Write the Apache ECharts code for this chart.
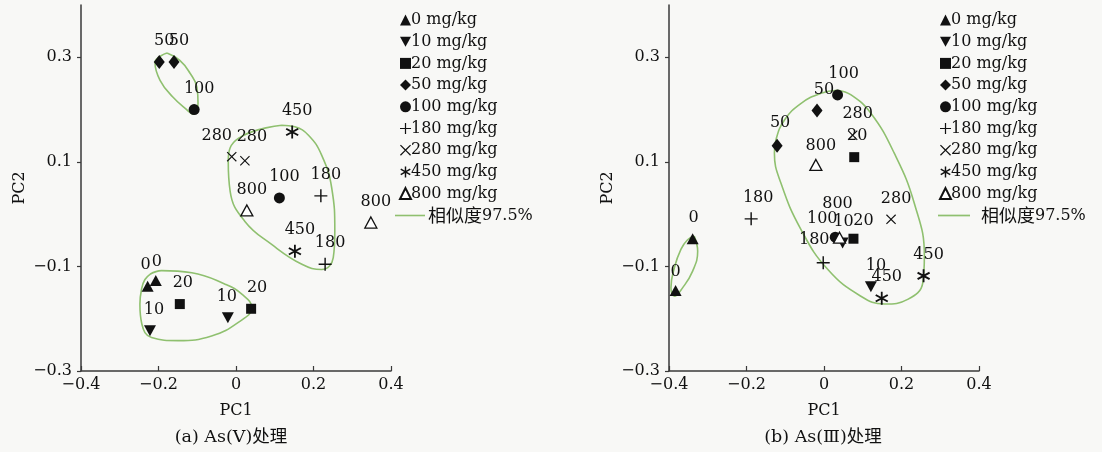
<!DOCTYPE html>
<html><head><meta charset="utf-8">
<script src="https://cdn.jsdelivr.net/npm/echarts@6/dist/echarts.min.js"></script>
<style>html,body{margin:0;padding:0;background:#f8f8f6}#c{width:1102px;height:452px}</style>
</head><body><div id="c"></div>
<script>
// ---------- data ----------
const doses = ['0','10','20','50','100','180','280','450','800'];
const legendNames = doses.map(d => d + ' mg/kg');
const contourName = '相似度97.5%';
const xTicks = [-0.4, -0.2, 0, 0.2, 0.4];
const yTicks = [-0.3, -0.1, 0.1, 0.3];
const captionA = '(a) As(Ⅴ)处理';
const captionB = '(b) As(Ⅲ)处理';

// panel (a) As(V): PC1, PC2 per dose
const a0   = [[-0.228,-0.138],[-0.207,-0.127]];
const a10  = [[-0.021,-0.198],[-0.222,-0.223]];
const a20  = [[-0.145,-0.172],[0.039,-0.181]];
const a50  = [[-0.198,0.291],[-0.160,0.291]];
const a100 = [[-0.108,0.200],[0.112,0.031]];
const a180 = [[0.219,0.035],[0.230,-0.096]];
const a280 = [[-0.011,0.110],[0.023,0.102]];
const a450 = [[0.145,0.157],[0.152,-0.071]];
const a800 = [[0.028,0.007],[0.348,-0.016]];

// panel (b) As(III)
const b0   = [[-0.339,-0.047],[-0.383,-0.146]];
const b10  = [[0.048,-0.055],[0.121,-0.139]];
const b20  = [[0.078,0.109],[0.076,-0.047]];
const b50  = [[-0.121,0.131],[-0.018,0.198]];
const b100 = [[0.035,0.228],[0.029,-0.044]];
const b180 = [[-0.188,-0.009],[-0.002,-0.093]];
const b280 = [[0.074,0.151],[0.173,-0.010]];
const b450 = [[0.149,-0.161],[0.257,-0.118]];
const b800 = [[-0.021,0.094],[0.040,-0.045]];

// similarity contours (97.5%)
const aLoopTop = [[-0.178,0.308],[-0.209,0.290],[-0.196,0.256],[-0.163,0.224],[-0.126,0.199],[-0.111,0.191],[-0.098,0.212],[-0.101,0.243],[-0.119,0.270],[-0.145,0.294],[-0.178,0.308]];
const aLoopMid = [[0.118,0.170],[0.006,0.145],[-0.020,0.101],[-0.015,0.043],[0.023,-0.014],[0.092,-0.058],[0.170,-0.096],[0.221,-0.106],[0.251,-0.083],[0.255,-0.033],[0.247,0.050],[0.221,0.113],[0.187,0.151],[0.152,0.167],[0.118,0.170]];
const aLoopBot = [[-0.222,-0.115],[-0.192,-0.108],[-0.114,-0.112],[-0.028,-0.134],[0.015,-0.153],[0.041,-0.179],[0.006,-0.207],[-0.063,-0.233],[-0.149,-0.242],[-0.218,-0.236],[-0.243,-0.210],[-0.248,-0.172],[-0.243,-0.141],[-0.235,-0.125],[-0.222,-0.115]];
const bLoopSmall = [[-0.335,-0.042],[-0.326,-0.071],[-0.339,-0.109],[-0.365,-0.141],[-0.386,-0.157],[-0.395,-0.141],[-0.386,-0.102],[-0.369,-0.067],[-0.352,-0.049],[-0.335,-0.042]];
const bLoopBig = [[0.035,0.237],[0.070,0.228],[0.121,0.193],[0.181,0.117],[0.233,0.021],[0.259,-0.080],[0.255,-0.131],[0.216,-0.163],[0.156,-0.172],[0.095,-0.157],[0.010,-0.106],[-0.059,-0.030],[-0.111,0.059],[-0.128,0.117],[-0.124,0.142],[-0.102,0.180],[-0.059,0.212],[-0.008,0.231],[0.035,0.237]];

const panelA = [a0,a10,a20,a50,a100,a180,a280,a450,a800];
const panelB = [b0,b10,b20,b50,b100,b180,b280,b450,b800];

// ---------- styles ----------
const FONT = "'DejaVu Serif','Liberation Serif','Noto Sans CJK SC',serif";
const CJK = "'Noto Sans CJK SC','DejaVu Serif',sans-serif";
const INK = '#111111';
const AXIS = '#3a3a3a';
const GREEN = '#8fc06f';
const PLUS = 'path://M4.45,0H5.55V4.45H10V5.55H5.55V10H4.45V5.55H0V4.45H4.45Z';
const CROSS = 'path://M0.8,0L5,4.2L9.2,0L10,0.8L5.8,5L10,9.2L9.2,10L5,5.8L0.8,10L0,9.2L4.2,5L0,0.8Z';
const STAR = 'path://M4.35,0H5.65V10H4.35Z M1.02,1.894L9.68,6.894L8.98,8.106L0.32,3.106Z M0.32,6.894L8.98,1.894L9.68,3.106L1.02,8.106Z';
const DOWN = 'path://M0,0L10,0L5,9Z';
const LINE_ICON = 'path://M0,0H30V1.6H0Z';
const markerStyles = [
  {symbol:'triangle', size:[12,11]},
  {symbol:DOWN, size:[12,11]},
  {symbol:'rect', size:10},
  {symbol:'diamond', size:[11,14]},
  {symbol:'circle', size:11},
  {symbol:PLUS, size:13},
  {symbol:CROSS, size:10},
  {symbol:STAR, size:13},
  {symbol:'triangle', size:[12,11], hollow:true}
];
// label shifts (pixels) relative to default
const shiftA = {0:[[-7,0],[-4,2]],1:[[-6,0],[-1,0]],2:[[-2,0],[1,0]],6:[[-20,0],[2,-3]]};
const shiftB = {0:[[-4,0],[-5,2]],1:[[-4,0],[0,0]],2:[[-2,0],[5,3]],3:[[-2,-2],[2,0]],4:[[1,0],[-18,3]],5:[[2,0],[-14,-2]],8:[[0,2],[-7,-13]]};

function scatterSeries(pts, i, axis, shifts) {
  const m = markerStyles[i];
  return {
    type:'scatter', name: legendNames[i], xAxisIndex: axis, yAxisIndex: axis,
    symbol: m.symbol, symbolSize: m.size, z: 3,
    itemStyle: m.hollow ? {color:'#ffffff', borderColor: INK, borderWidth: 1.3, opacity:1} : {color: INK, opacity:1},
    label: {show:true, position:'inside', formatter: doses[i], fontFamily: FONT, fontSize: 16, color: INK},
    emphasis:{disabled:true},
    data: pts.map((p, j) => {
      const s = (shifts[i] && shifts[i][j]) || [0,0];
      return {value: p, label: {offset: [5 + s[0], -21 + s[1]]}};
    })
  };
}
function contourSeries(loop, axis) {
  return {type:'line', name: contourName, xAxisIndex: axis, yAxisIndex: axis, data: loop,
    smooth: 0.45, symbol:'none', z: 1, silent: true,
    lineStyle:{color: GREEN, width: 1.6}, itemStyle:{color: GREEN}};
}
const fmt = v => { const r = Math.round(v*10)/10; return r === 0 ? '0' : r.toFixed(1).replace('-', '\u2212'); };

function xAx(grid) {
  return {type:'value', gridIndex: grid, min: xTicks[0], max: xTicks[xTicks.length-1], interval: 0.2,
    axisLine:{show:true, onZero:false, lineStyle:{color: AXIS, width: 1.5}},
    axisTick:{show:true, inside:true, length:5, lineStyle:{color: AXIS, width: 1.2}},
    splitLine:{show:false},
    axisLabel:{formatter: fmt, fontFamily: FONT, fontSize: 16, color: INK, margin: 6},
    name:'PC1', nameLocation:'middle', nameGap: 32, nameTextStyle:{fontFamily: FONT, fontSize: 16, color: INK}};
}
function yAx(grid) {
  return {type:'value', gridIndex: grid, min: -0.3, max: 0.4,
    axisLine:{show:true, onZero:false, lineStyle:{color: AXIS, width: 1.5}},
    axisTick:{show:true, inside:false, length:4, customValues: yTicks, lineStyle:{color: AXIS, width: 1.2}},
    splitLine:{show:false},
    axisLabel:{customValues: yTicks, formatter: fmt, fontFamily: FONT, fontSize: 16, color: INK, margin: 9},
    name:'PC2', nameLocation:'middle', nameGap: 53, nameRotate: 90, nameTextStyle:{fontFamily: FONT, fontSize: 16, color: INK}};
}
const legText = {fontFamily: FONT, fontSize: 16, lineHeight: 17, color: INK};
function markerLegend(left) {
  return {data: legendNames, orient:'vertical', left: left, top: 11.5, itemWidth: 11, itemHeight: 11, itemGap: 4.7,
    selectedMode: false, padding: 0, textStyle: Object.assign({padding:[0,0,0,-5]}, legText)};
}
function lineLegend(left, w, pad) {
  return {data: [{name: contourName, icon: LINE_ICON}], orient:'vertical', left: left, top: 206.5, itemWidth: w, itemHeight: 10,
    selectedMode: false, padding: 0,
    formatter: () => '{c|相似度}{n|97.5%}',
    textStyle: Object.assign({padding:[0,0,0,pad], rich:{c:{fontFamily: CJK, fontSize: 18, color: INK}, n:{fontFamily: FONT, fontSize: 16, color: INK}}}, legText)};
}

const series = [];
[aLoopTop, aLoopMid, aLoopBot].forEach(l => series.push(contourSeries(l, 0)));
[bLoopSmall, bLoopBig].forEach(l => series.push(contourSeries(l, 1)));
panelA.forEach((pts, i) => series.push(scatterSeries(pts, i, 0, shiftA)));
panelB.forEach((pts, i) => series.push(scatterSeries(pts, i, 1, shiftB)));

const option = {
  backgroundColor: '#f8f8f6',
  animation: false,
  grid: [
    {left: 81, top: 5, width: 310, height: 366},
    {left: 669, top: 5, width: 310, height: 366}
  ],
  xAxis: [xAx(0), xAx(1)],
  yAxis: [yAx(0), yAx(1)],
  legend: [markerLegend(399), lineLegend(395, 30, -2), markerLegend(939), lineLegend(938, 32, 6)],
  graphic: [
    {type:'text', x: 231, y: 437, style:{text: captionA, align:'center', verticalAlign:'middle', fontFamily: FONT, fontSize: 17.5, fill: INK}},
    {type:'text', x: 823, y: 437, style:{text: captionB, align:'center', verticalAlign:'middle', fontFamily: FONT, fontSize: 17.5, fill: INK}}
  ],
  series: series
};
const chart = echarts.init(document.getElementById('c'), null, {renderer:'canvas'});
chart.setOption(option);
</script></body></html>
